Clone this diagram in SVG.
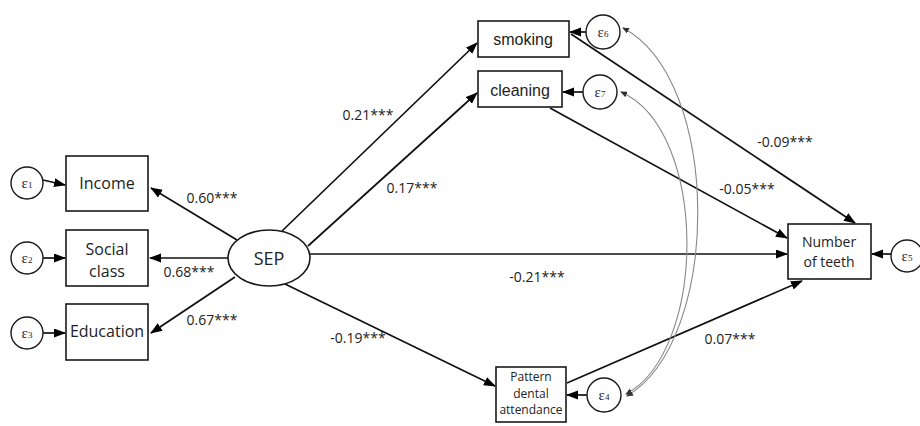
<svg xmlns="http://www.w3.org/2000/svg" width="920" height="426" viewBox="0 0 920 426">
<defs>
<marker id="ah" markerUnits="userSpaceOnUse" markerWidth="12" markerHeight="10" refX="11" refY="4.5" orient="auto">
<path d="M0,0 L12,4.5 L0,9 z" fill="#000"/>
</marker>
<marker id="sh" markerUnits="userSpaceOnUse" markerWidth="7" markerHeight="6" refX="6" refY="3" orient="auto-start-reverse">
<path d="M0,0 L7,3 L0,6 z" fill="#333"/>
</marker>
</defs>
<style>
.box{fill:#fff;stroke:#1a1a1a;stroke-width:1.6}
.err{fill:#fff;stroke:#1a1a1a;stroke-width:1.4}
.t{font-family:"Open Sans","DejaVu Sans",sans-serif;fill:#222;text-anchor:middle}
.a{font-family:"Liberation Sans",Arial,sans-serif;fill:#222;text-anchor:middle;font-size:16px}
.lab{font-family:"Open Sans","DejaVu Sans",sans-serif;fill:#222;font-size:14px;text-anchor:middle}
.e{font-family:"Liberation Serif","DejaVu Serif",serif;fill:#223;font-size:15px;text-anchor:middle}
.c{stroke:#111;stroke-width:1.7;fill:none;marker-end:url(#ah)}
.cv{stroke:#888;stroke-width:1.1;fill:none;marker-start:url(#sh);marker-end:url(#sh)}
</style>
<rect width="920" height="426" fill="#fff"/>
<g id="connectors">
<line class="c" x1="237" y1="240" x2="151" y2="188"/>
<line class="c" x1="228" y1="258" x2="150" y2="258"/>
<line class="c" x1="235" y1="277" x2="151" y2="333"/>
<line class="c" x1="282" y1="231" x2="477" y2="43"/>
<line class="c" x1="308" y1="246" x2="477" y2="93"/>
<line class="c" x1="310" y1="254" x2="787" y2="254"/>
<line class="c" x1="285" y1="284" x2="495" y2="386"/>
<line class="c" x1="571" y1="34" x2="855" y2="223"/>
<line class="c" x1="550" y1="108" x2="787" y2="238"/>
<line class="c" x1="567" y1="383" x2="802" y2="281"/>
<line class="c" x1="43" y1="180" x2="65" y2="185"/>
<line class="c" x1="43" y1="258" x2="65" y2="258"/>
<line class="c" x1="43" y1="333" x2="65" y2="333"/>
<line class="c" x1="586" y1="32" x2="570" y2="32"/>
<line class="c" x1="583" y1="92" x2="563" y2="92"/>
<line class="c" x1="587" y1="395" x2="567" y2="395"/>
<line class="c" x1="892" y1="254" x2="872" y2="254"/>
<path class="cv" d="M623,28 C722,80 722,340 627,396"/>
<path class="cv" d="M621,92 C708,130 708,350 626,394"/>
</g>
<g id="labels">
<text class="lab" x="212" y="203">0.60***</text>
<text class="lab" x="189" y="277">0.68***</text>
<text class="lab" x="212" y="325">0.67***</text>
<text class="lab" x="368" y="120">0.21***</text>
<text class="lab" x="412" y="193">0.17***</text>
<text class="lab" x="537" y="282">-0.21***</text>
<text class="lab" x="358" y="343">-0.19***</text>
<text class="lab" x="785" y="147">-0.09***</text>
<text class="lab" x="747" y="194">-0.05***</text>
<text class="lab" x="730" y="344">0.07***</text>
</g>
<g id="e1"><circle class="err" cx="27" cy="183" r="16"/><text class="e" x="27" y="188">ε<tspan font-size="9">1</tspan></text></g>
<g id="e2"><circle class="err" cx="27" cy="258" r="16"/><text class="e" x="27" y="263">ε<tspan font-size="9">2</tspan></text></g>
<g id="e3"><circle class="err" cx="27" cy="333" r="16"/><text class="e" x="27" y="338">ε<tspan font-size="9">3</tspan></text></g>
<g id="income"><rect class="box" x="66" y="156" width="82" height="55"/><text class="t" x="107" y="189" font-size="16">Income</text></g>
<g id="social"><rect class="box" x="66" y="230" width="82" height="56"/><text class="t" x="107" y="255" font-size="16">Social</text><text class="t" x="107" y="277" font-size="16">class</text></g>
<g id="education"><rect class="box" x="66" y="304" width="82" height="56"/><text class="t" x="107" y="337" font-size="16">Education</text></g>
<g id="sep"><ellipse class="box" cx="269" cy="258" rx="41" ry="28"/><text class="t" x="269" y="265" font-size="18">SEP</text></g>
<g id="smoking"><rect class="box" x="478" y="21" width="91" height="36"/><text class="a" x="523" y="45">smoking</text></g>
<g id="cleaning"><rect class="box" x="478" y="71" width="84" height="36"/><text class="a" x="520" y="96">cleaning</text></g>
<g id="pattern"><rect class="box" x="496" y="367" width="70" height="55"/><text class="t" x="531" y="381" font-size="12">Pattern</text><text class="t" x="531" y="397.5" font-size="12">dental</text><text class="t" x="531" y="414" font-size="12">attendance</text></g>
<g id="teeth"><rect class="box" x="788" y="224" width="83" height="55"/><text class="t" x="829" y="247" font-size="14">Number</text><text class="t" x="829" y="266.5" font-size="14">of teeth</text></g>
<g id="e6"><circle class="err" cx="603" cy="32" r="17"/><text class="e" x="603" y="37">ε<tspan font-size="9">6</tspan></text></g>
<g id="e7"><circle class="err" cx="600" cy="92" r="17"/><text class="e" x="600" y="97">ε<tspan font-size="9">7</tspan></text></g>
<g id="e4"><circle class="err" cx="604" cy="395" r="17"/><text class="e" x="604" y="400">ε<tspan font-size="9">4</tspan></text></g>
<g id="e5"><circle class="err" cx="907" cy="256" r="16"/><text class="e" x="907" y="261">ε<tspan font-size="9">5</tspan></text></g>
</svg>
